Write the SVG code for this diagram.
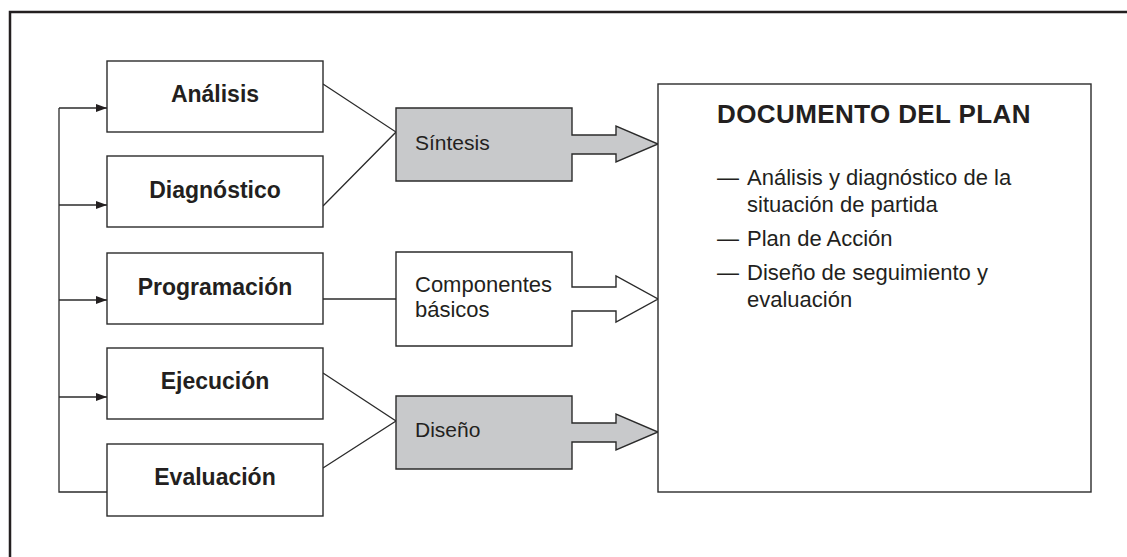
<svg xmlns="http://www.w3.org/2000/svg" width="1127" height="557" viewBox="0 0 1127 557">
<defs>
<style>
.box{fill:#ffffff;stroke:#2b2b2b;stroke-width:1.4}
.gray{fill:#c8c9cb;stroke:#2b2b2b;stroke-width:1.4}
.ln{fill:none;stroke:#2b2b2b;stroke-width:1.3}
.bl{font-family:"Liberation Sans",Arial,sans-serif;font-weight:bold;font-size:23px;fill:#231f20;text-anchor:middle}
.rg{font-family:"Liberation Sans",Arial,sans-serif;font-size:21px;fill:#231f20}
.doc{font-family:"Liberation Sans",Arial,sans-serif;font-size:22px;fill:#231f20}
</style>
<marker id="ah" markerUnits="userSpaceOnUse" markerWidth="12" markerHeight="10" refX="11" refY="4" orient="auto">
<path d="M0,0 L11,4 L0,8 Z" fill="#231f20"/>
</marker>
</defs>
<rect width="1127" height="557" fill="#ffffff"/>
<path d="M10,557 V12 H1127" fill="none" stroke="#231f20" stroke-width="2.5"/>
<g id="connectors">
<path class="ln" d="M59,108 V492 H107"/>
<line class="ln" x1="59" y1="108" x2="107" y2="108" marker-end="url(#ah)"/>
<line class="ln" x1="59" y1="205" x2="107" y2="205" marker-end="url(#ah)"/>
<line class="ln" x1="59" y1="300" x2="107" y2="300" marker-end="url(#ah)"/>
<line class="ln" x1="59" y1="397" x2="107" y2="397" marker-end="url(#ah)"/>
<path class="ln" d="M323,84 L396,132 L323,206"/>
<line class="ln" x1="323" y1="299" x2="396" y2="299"/>
<path class="ln" d="M323,373 L396,421 L323,468"/>
</g>
<g id="analisis"><rect class="box" x="107" y="61" width="216" height="71"/><text class="bl" x="215" y="102">Análisis</text></g>
<g id="diagnostico"><rect class="box" x="107" y="156" width="216" height="71"/><text class="bl" x="215" y="198">Diagnóstico</text></g>
<g id="programacion"><rect class="box" x="107" y="253" width="216" height="71"/><text class="bl" x="215" y="295">Programación</text></g>
<g id="ejecucion"><rect class="box" x="107" y="348" width="216" height="71"/><text class="bl" x="215" y="389">Ejecución</text></g>
<g id="evaluacion"><rect class="box" x="107" y="444" width="216" height="72"/><text class="bl" x="215" y="485">Evaluación</text></g>
<g id="sintesis"><path class="gray" d="M396,108 H572 V135 H616 V126 L658,144 L616,162 V154 H572 V181 H396 Z"/><text class="rg" x="415" y="150">Síntesis</text></g>
<g id="componentes"><path class="box" d="M396,252 H572 V287 H616 V276 L658,299 L616,322 V311 H572 V346 H396 Z"/><text class="doc" x="415" y="292">Componentes</text><text class="doc" x="415" y="317">básicos</text></g>
<g id="diseno"><path class="gray" d="M396,396 H572 V423 H616 V414 L658,432 L616,450 V442 H572 V469 H396 Z"/><text class="rg" x="415" y="437">Diseño</text></g>
<g id="documento">
<rect class="box" x="658" y="84" width="433" height="408"/>
<text x="717" y="123" font-family="'Liberation Sans',Arial,sans-serif" font-weight="bold" font-size="26" letter-spacing="0.4" fill="#231f20">DOCUMENTO DEL PLAN</text>
<text class="doc" x="717" y="185">—</text><text class="doc" x="747" y="185">Análisis y diagnóstico de la</text>
<text class="doc" x="747" y="212">situación de partida</text>
<text class="doc" x="717" y="246">—</text><text class="doc" x="747" y="246">Plan de Acción</text>
<text class="doc" x="717" y="280">—</text><text class="doc" x="747" y="280">Diseño de seguimiento y</text>
<text class="doc" x="747" y="307">evaluación</text>
</g>
</svg>
